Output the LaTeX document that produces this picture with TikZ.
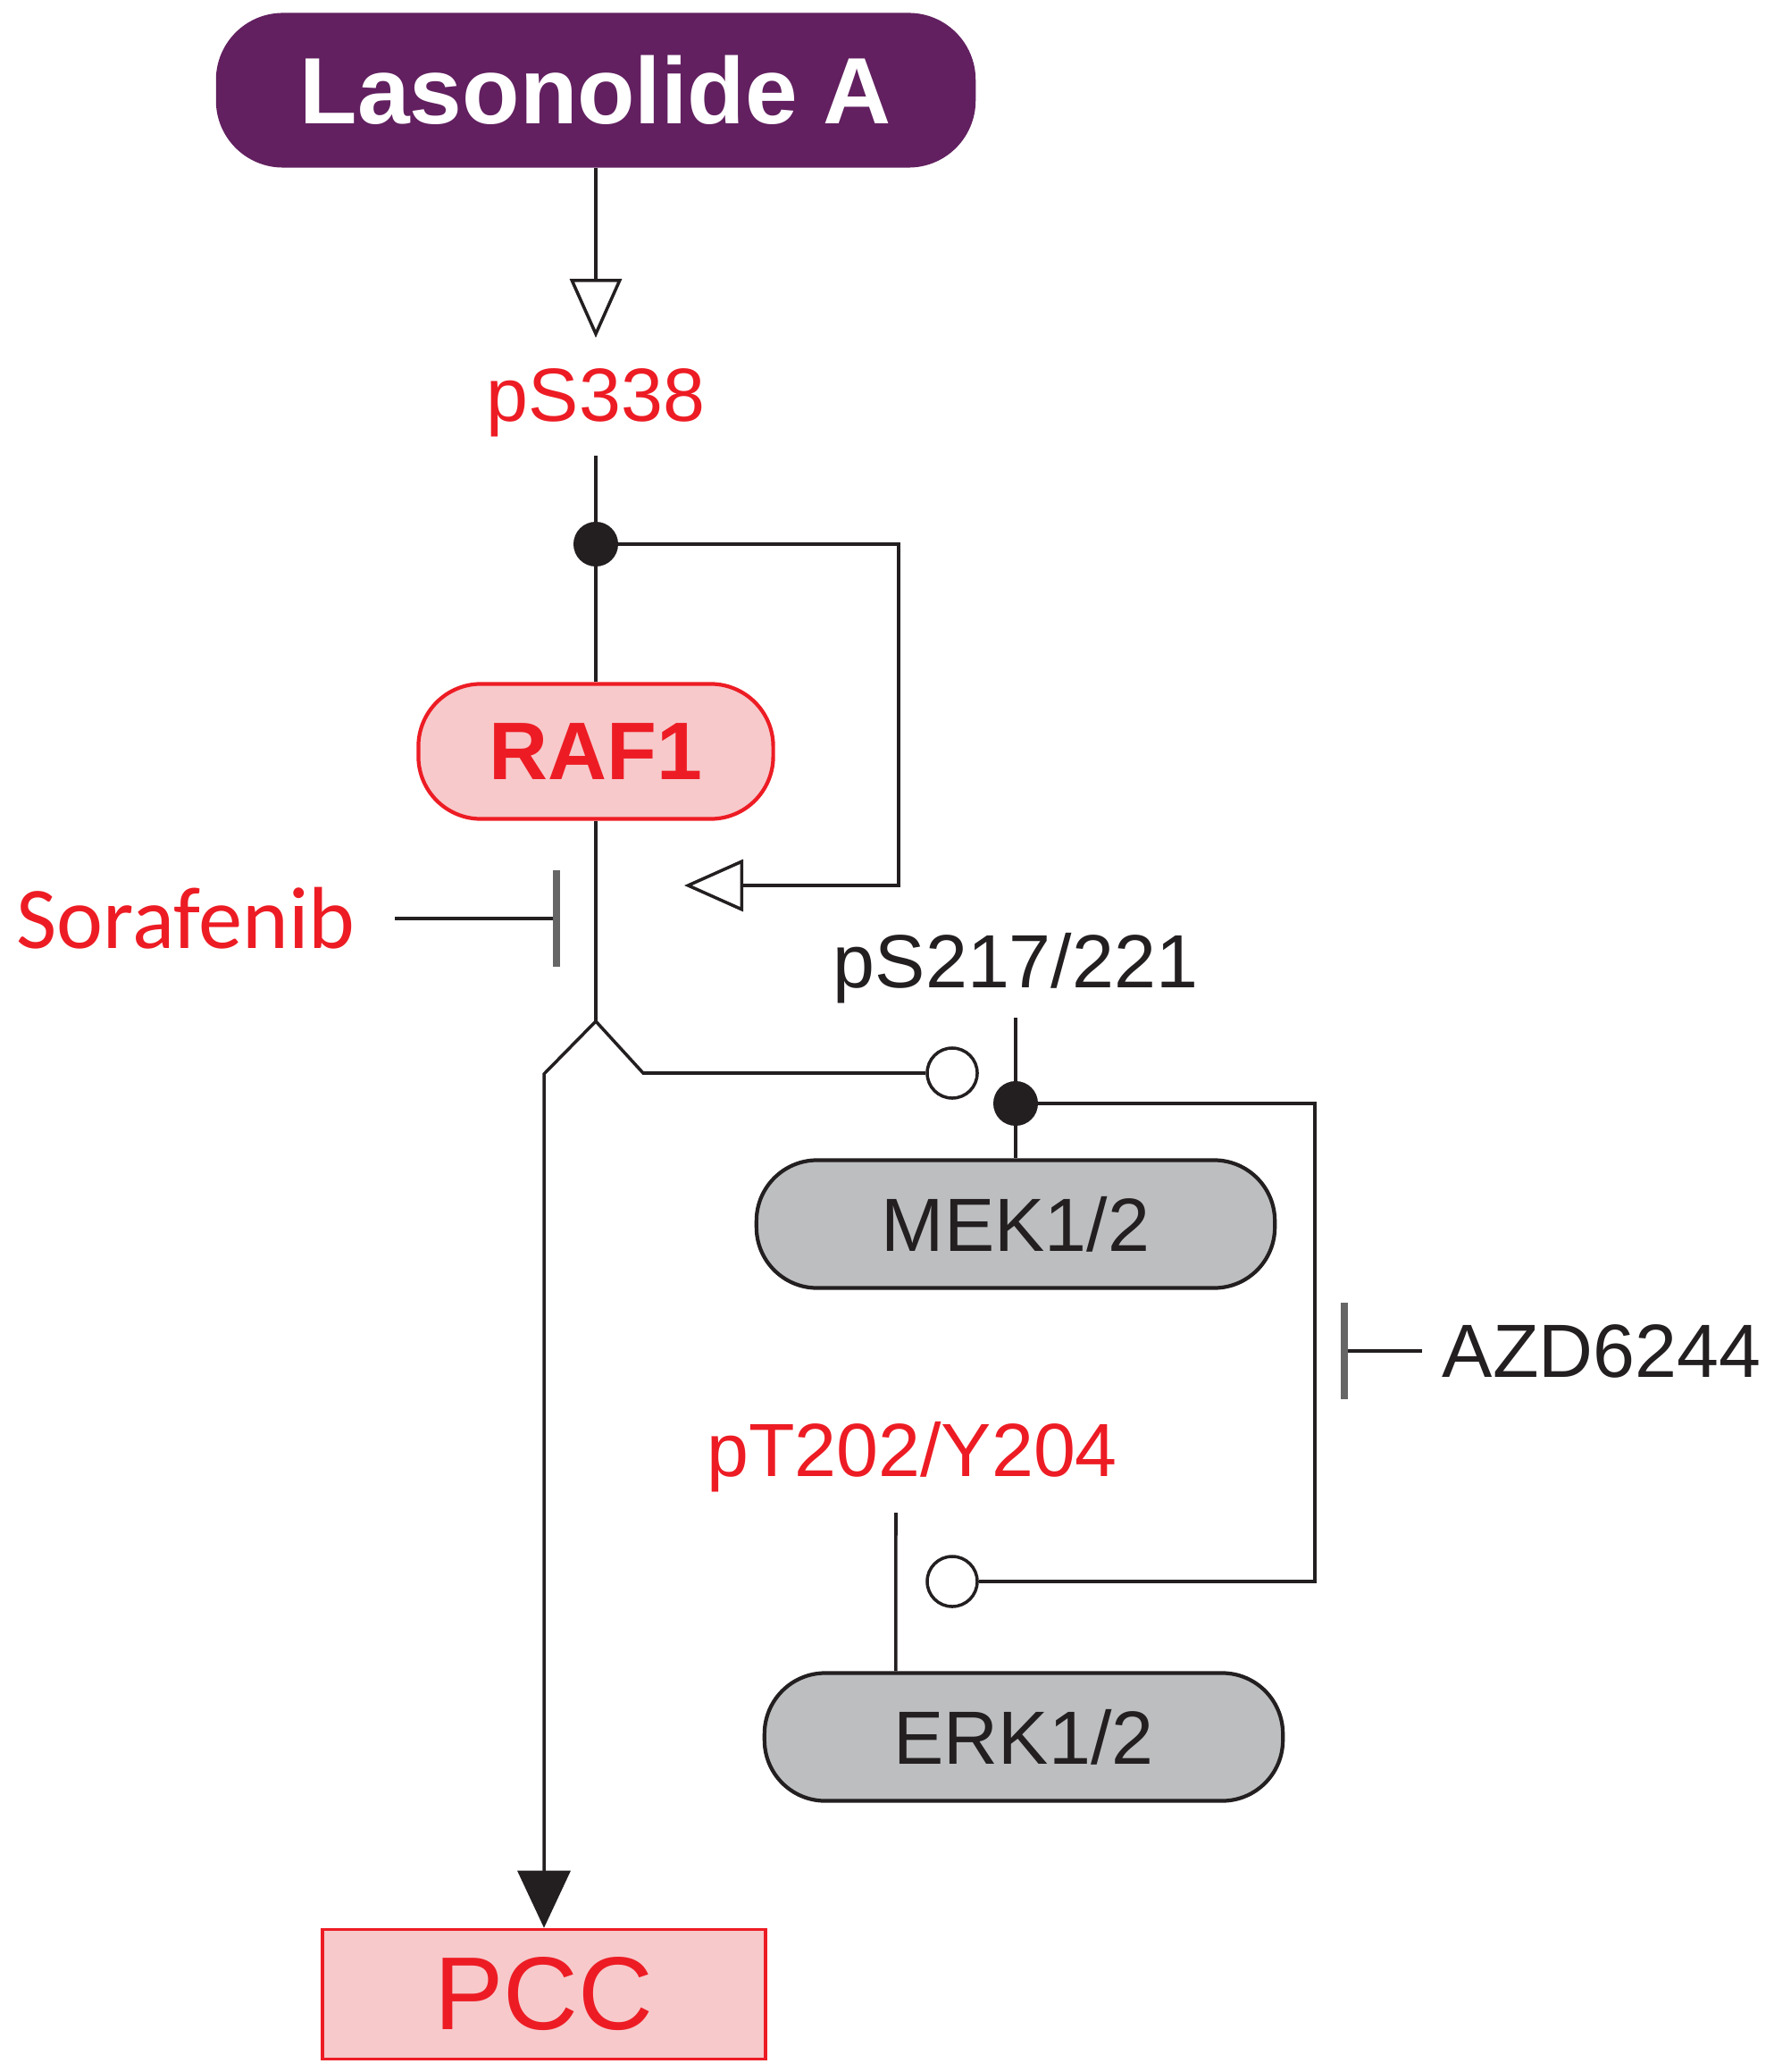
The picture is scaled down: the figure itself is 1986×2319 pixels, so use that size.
\documentclass[tikz,border=0pt]{standalone}
\usepackage{fontspec}
\setmainfont{Liberation Sans}
\newfontfamily\humanist{Carlito}
\usetikzlibrary{arrows.meta, positioning, calc}

\definecolor{lasapurple}{RGB}{98,32,96}
\definecolor{rafpink}{RGB}{247,201,203}
\definecolor{rafred}{RGB}{237,28,36}
\definecolor{kingray}{RGB}{188,190,192}
\definecolor{inkline}{RGB}{35,31,32}

\begin{document}
\begin{tikzpicture}[
    x=0.01cm, y=-0.01cm,
    drug/.style={rectangle, rounded corners=0.75cm, fill=lasapurple, text=white, minimum width=8.5cm, minimum height=1.73cm, font=\fontsize{30}{36}\selectfont\bfseries},
    target/.style={rectangle, draw=rafred, line width=1.2pt, rounded corners=0.7cm, fill=rafpink, text=rafred, minimum width=3.97cm, minimum height=1.51cm, font=\fontsize{26}{31}\selectfont\bfseries},
    kinase/.style={rectangle, draw=inkline, line width=1.2pt, rounded corners=0.68cm, fill=kingray, text=inkline, minimum width=5.8cm, minimum height=1.43cm, font=\fontsize{24}{29}\selectfont},
    outcome/.style={rectangle, draw=rafred, line width=1pt, fill=rafpink, text=rafred, minimum width=4.96cm, minimum height=1.45cm, font=\fontsize{33}{40}\selectfont},
    site/.style={inner sep=0pt, font=\fontsize{24}{29}\selectfont},
    pdot/.style={circle, fill=inkline, inner sep=0pt, minimum size=0.5cm},
    odot/.style={circle, draw=inkline, line width=1pt, fill=white, inner sep=0pt, minimum size=0.56cm},
    link/.style={draw=inkline, line width=1pt},
    opentip/.style={-{Triangle[open, length=0.66cm, width=0.58cm, line width=1pt]}},
    block/.style={-{Bar[width=1.08cm, line width=2.2pt, color=gray!80!black]}}
]
\useasboundingbox (0,0) rectangle (1986,2319);

% Nodes
\node[drug] (lasa) at (667,101) {Lasonolide A};
\node[site, text=rafred] (pS338) at (667,451) {pS338};
\node[pdot] (dotA) at (667,609) {};
\node[target] (raf) at (667,841) {RAF1};
\coordinate (fbA) at (1006,991);
\coordinate (rafIn) at (766,991);

\node[site, text=rafred, font=\humanist\fontsize{28}{34}\selectfont] (sora) at (208,1028) {Sorafenib};
\coordinate (soraBar) at (627,1028);

\coordinate (split) at (667,1143);
\coordinate (splitL) at (609,1202);
\coordinate (splitR) at (720,1201);
\node[odot] (openA) at (1066,1201) {};

\node[site, text=inkline] (pS217) at (1137,1084) {pS217/221};
\node[pdot] (dotB) at (1137,1235) {};
\node[kinase] (mek) at (1137,1370) {MEK1/2};
\coordinate (fbB) at (1472,1770);
\node[odot] (openB) at (1066,1770) {};

\node[site, text=inkline] (azd) at (1793,1512) {AZD6244};
\coordinate (azdBar) at (1501,1512);

\node[site, text=rafred] (pT202) at (1021,1631) {pT202/Y204};
\node[kinase] (erk) at (1146,1944) {ERK1/2};

\node[outcome] (pcc) at (609,2232) {PCC};

% Arrows
\draw[link, opentip, shorten >=0.34cm] (lasa) -- (pS338);
\draw[link, shorten <=0.2cm] (pS338) -- (dotA.center);
\draw[link] (dotA.center) -- (raf);
\draw[link, opentip] (dotA.center) -| (fbA) -- (rafIn);
\draw[link] (raf) -- (split);
\draw[link, -{Triangle[length=0.64cm, width=0.59cm]}] (split) -- (splitL) -- (pcc);
\draw[link] (split) -- (splitR) -- (openA);
\draw[link, block, shorten <=0.44cm] (sora) -- (soraBar);

\draw[link, shorten <=0.15cm] (pS217) -- (dotB.center);
\draw[link] (dotB.center) -- (mek);
\draw[link] (dotB.center) -| (fbB) -- (openB);
\draw[link, block, shorten <=0.22cm] (azd) -- (azdBar);
\draw[link, shorten <=0.22cm] ([xshift=-0.18cm]pT202.south) -- ([xshift=-1.43cm]erk.north);

\end{tikzpicture}
\end{document}
